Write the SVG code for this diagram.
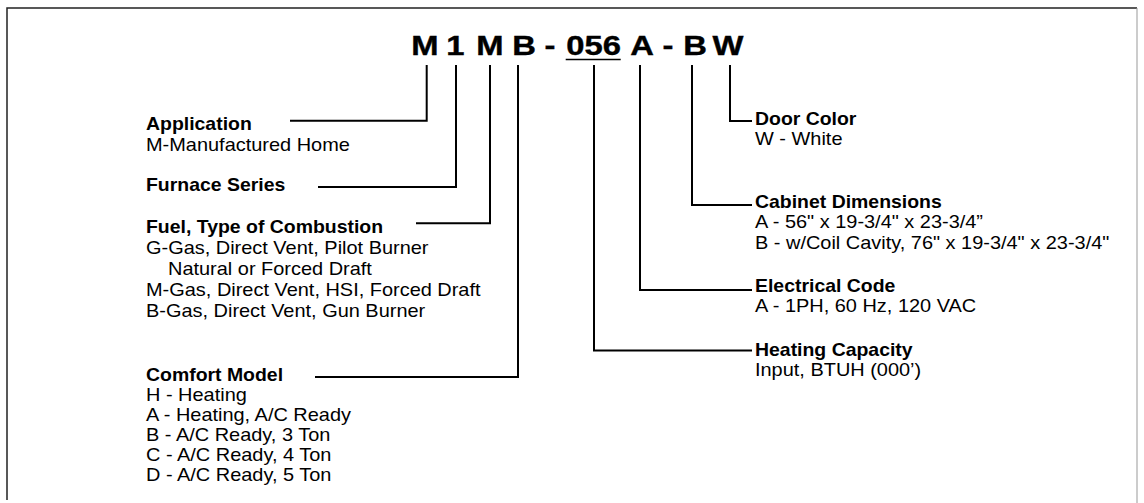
<svg xmlns="http://www.w3.org/2000/svg" width="1144" height="503" viewBox="0 0 1144 503">
<style>
.t{font-family:"Liberation Sans",Arial,Helvetica,sans-serif;font-size:17.5px;fill:#000}
.b{font-weight:bold}
.title{font-family:"Liberation Sans",Arial,Helvetica,sans-serif;font-size:28px;font-weight:bold;fill:#000;stroke:#000;stroke-width:0.4}
.c{fill:none;stroke:#000;stroke-width:2}
</style>
<rect x="0" y="0" width="1144" height="503" fill="#fff"/>
<path d="M7,500 V8 H1137" fill="none" stroke="#222" stroke-width="1.5"/>
<path d="M1137,8 V503" fill="none" stroke="#999" stroke-width="1"/>
<g id="model-number">
<g transform="scale(1.17,1)">
<text class="title" y="55" text-anchor="middle"><tspan x="363.2">M</tspan><tspan x="389.3">1</tspan><tspan x="418.8">M</tspan><tspan x="447.9">B</tspan><tspan x="470.1">-</tspan><tspan x="507.3">056</tspan><tspan x="548.7">A</tspan><tspan x="571">-</tspan><tspan x="594">B</tspan><tspan x="622.2">W</tspan></text>
</g>
<line x1="565.7" y1="59.5" x2="620.7" y2="59.5" stroke="#000" stroke-width="1.6"/>
</g>
<g id="connectors">
<path class="c" d="M426.7,65 V120.7 H290"/>
<path class="c" d="M456,65 V187 H318"/>
<path class="c" d="M490,65 V223.3 H416"/>
<path class="c" d="M518,65 V377 H315"/>
<path class="c" d="M594,65 V350.5 H752"/>
<path class="c" d="M640,65 V290 H752"/>
<path class="c" d="M692,65 V205 H752"/>
<path class="c" d="M730,65 V121 H752"/>
</g>
<g id="application" transform="translate(146,0) scale(1.14,1)">
<text class="t b" x="0" y="130" transform="scale(0.974,1)">Application</text>
<text class="t" x="0" y="151">M-Manufactured Home</text>
</g>
<g id="furnace-series" transform="translate(146,0) scale(1.14,1)">
<text class="t b" x="0" y="191.5" transform="scale(0.974,1)">Furnace Series</text>
</g>
<g id="fuel" transform="translate(146,0) scale(1.14,1)">
<text class="t b" x="0" y="233" transform="scale(0.974,1)">Fuel, Type of Combustion</text>
<text class="t" x="0" y="254.5">G-Gas, Direct Vent, Pilot Burner</text>
<text class="t" x="19.3" y="275.5">Natural or Forced Draft</text>
<text class="t" x="0" y="296.5">M-Gas, Direct Vent, HSI, Forced Draft</text>
<text class="t" x="0" y="317">B-Gas, Direct Vent, Gun Burner</text>
</g>
<g id="comfort-model" transform="translate(146,0) scale(1.14,1)">
<text class="t b" x="0" y="381.5" transform="scale(0.974,1)">Comfort Model</text>
<text class="t" x="0" y="401.5">H - Heating</text>
<text class="t" x="0" y="421.5">A - Heating, A/C Ready</text>
<text class="t" x="0" y="441.5">B - A/C Ready, 3 Ton</text>
<text class="t" x="0" y="461.5">C - A/C Ready, 4 Ton</text>
<text class="t" x="0" y="481.5">D - A/C Ready, 5 Ton</text>
</g>
<g id="door-color" transform="translate(755,0) scale(1.14,1)">
<text class="t b" x="0" y="125" transform="scale(0.974,1)">Door Color</text>
<text class="t" x="0" y="145">W - White</text>
</g>
<g id="cabinet-dimensions" transform="translate(755,0) scale(1.14,1)">
<text class="t b" x="0" y="208.5" transform="scale(0.974,1)">Cabinet Dimensions</text>
<text class="t" x="0" y="228.5">A - 56" x 19-3/4" x 23-3/4”</text>
<text class="t" x="0" y="249">B - w/Coil Cavity, 76" x 19-3/4" x 23-3/4"</text>
</g>
<g id="electrical-code" transform="translate(755,0) scale(1.14,1)">
<text class="t b" x="0" y="292" transform="scale(0.974,1)">Electrical Code</text>
<text class="t" x="0" y="312.5">A - 1PH, 60 Hz, 120 VAC</text>
</g>
<g id="heating-capacity" transform="translate(755,0) scale(1.14,1)">
<text class="t b" x="0" y="356" transform="scale(0.974,1)">Heating Capacity</text>
<text class="t" x="0" y="376.5">Input, BTUH (000’)</text>
</g>
</svg>
